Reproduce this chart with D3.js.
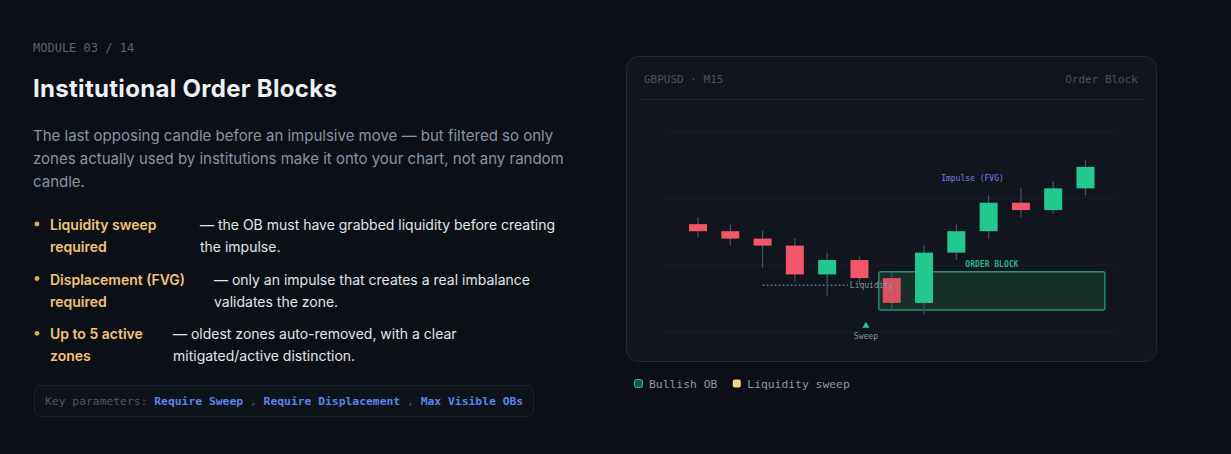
<!DOCTYPE html>
<html>
<head>
<meta charset="utf-8">
<script src="https://cdn.jsdelivr.net/npm/d3@7"></script>
<style>
  body { margin: 0; background: #0c1016; }
  svg { display: block; }
</style>
</head>
<body>
<div id="page"></div>
<script>
// Left column copy
let moduleLabel = 'MODULE 03 / 14';
let titleText = 'Institutional Order Blocks';
let introLines = [
	'The last opposing candle before an impulsive move \u2014 but filtered so only',
	'zones actually used by institutions make it onto your chart, not any random',
	'candle.'
];
let bulletLabels = [
	['Liquidity sweep', 'required'],
	['Displacement (FVG)', 'required'],
	['Up to 5 active', 'zones']
];
let bulletTexts = [
	['\u2014 the OB must have grabbed liquidity before creating', 'the impulse.'],
	['\u2014 only an impulse that creates a real imbalance', 'validates the zone.'],
	['\u2014 oldest zones auto-removed, with a clear', 'mitigated/active distinction.']
];
let keyParams = ['Require Sweep', 'Require Displacement', 'Max Visible OBs'];

// Chart: GBPUSD M15 candles
let symbolLabel = 'GBPUSD \u00b7 M15';
let chartTag = 'Order Block';
let candleIdx = [0, 1, 2, 3, 4, 5, 6, 7, 8, 9, 10, 11, 12];
let opens  = [1.27321, 1.27300, 1.27278, 1.27257, 1.27171, 1.27214, 1.27160, 1.27086, 1.27236, 1.27300, 1.27385, 1.27363, 1.27428];
let highs  = [1.27342, 1.27321, 1.27301, 1.27280, 1.27236, 1.27225, 1.27179, 1.27257, 1.27321, 1.27407, 1.27429, 1.27449, 1.27513];
let lows   = [1.27280, 1.27257, 1.27191, 1.27150, 1.27107, 1.27140, 1.27065, 1.27052, 1.27214, 1.27278, 1.27342, 1.27353, 1.27406];
let closes = [1.27300, 1.27278, 1.27257, 1.27171, 1.27214, 1.27160, 1.27086, 1.27236, 1.27300, 1.27385, 1.27363, 1.27428, 1.27492];
let priceTicks = [1.2700, 1.2720, 1.2740, 1.2760];

// Annotations
let liquidityLevel = 1.27139;
let liquiditySpan = [2, 4.64];
let obCandle = 6;
let obSpan = [5.6, 12.6];
let sweepMark = [5.2, 1.27018];
let impulseMark = [8.5, 1.27450];
let legendLabels = ['Bullish OB', 'Liquidity sweep'];

const mono = "'DejaVu Sans Mono', monospace";
const sans = "Inter, 'Noto Sans', sans-serif";
const green = '#22c98f', red = '#f25668';

let svg = d3.select('#page')
			.append('svg')
			.attr('width', 1231)
			.attr('height', 454);

svg.append('rect')
	.attr('width', 1231)
	.attr('height', 454)
	.attr('fill', '#0c1016');

/* Left column */
let left = svg.append('g');

left.append('text')
	.attr('x', 33).attr('y', 52)
	.attr('font-family', mono).attr('font-size', 12)
	.attr('fill', '#596171')
	.text(moduleLabel);

left.append('text')
	.attr('x', 33).attr('y', 97)
	.attr('font-family', sans).attr('font-size', 24).attr('font-weight', 700)
	.attr('letter-spacing', 0.3)
	.attr('fill', '#eef0f3')
	.text(titleText);

left.selectAll('.intro')
	.data(introLines)
	.join('text')
	.attr('class', 'intro')
	.attr('x', 33)
	.attr('y', (d, i) => 141 + i * 23.2)
	.attr('font-family', sans).attr('font-size', 15)
	.attr('fill', '#8a93a2')
	.text(d => d);

let itemBase = [230, 284.5, 339.3];
let descX = [200, 214, 173];

let items = left.selectAll('.item')
				.data(bulletLabels)
				.join('g')
				.attr('class', 'item')
				.attr('transform', (d, i) => 'translate(0,' + itemBase[i] + ')');

items.append('circle')
	.attr('cx', 37).attr('cy', -6)
	.attr('r', 2.4)
	.attr('fill', '#e4aa4b');

items.selectAll('.lbl')
	.data(d => d)
	.join('text')
	.attr('class', 'lbl')
	.attr('x', 50)
	.attr('y', (d, i) => i * 22)
	.attr('font-family', sans).attr('font-size', 14).attr('font-weight', 600)
	.attr('fill', '#f1c477')
	.text(d => d);

items.each(function (d, k) {
	d3.select(this).selectAll('.desc')
		.data(bulletTexts[k])
		.join('text')
		.attr('class', 'desc')
		.attr('x', descX[k])
		.attr('y', (t, i) => i * 22)
		.attr('font-family', sans).attr('font-size', 14)
		.attr('fill', '#e2e5e9')
		.text(t => t);
});

// key parameters box
left.append('rect')
	.attr('x', 34.5).attr('y', 385.5)
	.attr('width', 499).attr('height', 31)
	.attr('rx', 6)
	.attr('fill', '#0e131a')
	.attr('stroke', '#1b212b');

let kp = left.append('text')
			.attr('x', 45).attr('y', 405)
			.attr('font-family', mono).attr('font-size', 11.35)
			.attr('xml:space', 'preserve')
			.style('white-space', 'pre');

kp.append('tspan').attr('fill', '#4d5564').text('Key parameters: ');
keyParams.forEach((p, i) => {
	if (i > 0) kp.append('tspan').attr('fill', '#4d5564').text(' , ');
	kp.append('tspan').attr('fill', '#5a83ea').attr('font-weight', 700).text(p);
});

/* Chart card */
let card = svg.append('g');

card.append('rect')
	.attr('x', 626.5).attr('y', 56.5)
	.attr('width', 530).attr('height', 305)
	.attr('rx', 12)
	.attr('fill', '#10151e')
	.attr('stroke', '#222a36');

card.append('text')
	.attr('x', 644).attr('y', 83)
	.attr('font-family', mono).attr('font-size', 11)
	.attr('fill', '#4a5262')
	.text(symbolLabel);

card.append('text')
	.attr('x', 1138).attr('y', 83)
	.attr('text-anchor', 'end')
	.attr('font-family', mono).attr('font-size', 11)
	.attr('fill', '#4a5262')
	.text(chartTag);

card.append('line')
	.attr('x1', 639).attr('x2', 1144)
	.attr('y1', 99.5).attr('y2', 99.5)
	.attr('stroke', '#1c2330');

let x = d3.scaleLinear().domain([0, 12]).range([698, 1085.5]);
let y = d3.scaleLinear().domain([1.2700, 1.2760]).range([331.7, 130.7]);

// horizontal grid from a right axis with long ticks
let grid = card.append('g')
			.attr('transform', 'translate(665,0)')
			.call(d3.axisRight(y).tickValues(priceTicks).tickSize(452.5).tickFormat(''));
grid.select('.domain').remove();
grid.selectAll('line').attr('stroke', '#19202a');

// order block zone = range of the last bearish candle
card.append('rect')
	.attr('x', x(obSpan[0]))
	.attr('y', y(highs[obCandle]))
	.attr('width', x(obSpan[1]) - x(obSpan[0]))
	.attr('height', y(lows[obCandle]) - y(highs[obCandle]))
	.attr('rx', 2)
	.attr('fill', '#163029')
	.attr('stroke', '#2a9071')
	.attr('stroke-width', 1.4);

// liquidity level
card.append('line')
	.attr('x1', x(liquiditySpan[0])).attr('x2', x(liquiditySpan[1]))
	.attr('y1', y(liquidityLevel)).attr('y2', y(liquidityLevel))
	.attr('stroke', '#8a93a2')
	.attr('stroke-width', 1)
	.attr('stroke-dasharray', '2,2');

let candles = card.selectAll('.candle')
				.data(candleIdx)
				.join('g')
				.attr('class', 'candle');

candles.append('line')
	.attr('x1', i => x(i)).attr('x2', i => x(i))
	.attr('y1', i => y(highs[i])).attr('y2', i => y(lows[i]))
	.attr('stroke', '#4a5361')
	.attr('stroke-width', 1.2);

candles.append('rect')
	.attr('x', i => x(i) - 9)
	.attr('width', 18)
	.attr('y', i => y(Math.max(opens[i], closes[i])))
	.attr('height', i => Math.abs(y(opens[i]) - y(closes[i])))
	.attr('fill', i => closes[i] >= opens[i] ? green : red)
	.attr('opacity', i => i === obCandle ? 0.88 : 1);

card.append('text')
	.attr('x', x(liquiditySpan[1]) + 2)
	.attr('y', y(liquidityLevel) + 3)
	.attr('font-family', mono).attr('font-size', 8)
	.attr('fill', '#8a93a2')
	.text('Liquidity');

card.append('text')
	.attr('x', (x(obSpan[0]) + x(obSpan[1])) / 2)
	.attr('y', y(highs[obCandle]) - 5)
	.attr('text-anchor', 'middle')
	.attr('font-family', mono).attr('font-size', 8).attr('font-weight', 700)
	.attr('fill', '#2caf82')
	.text('ORDER BLOCK');

card.append('text')
	.attr('x', x(impulseMark[0]))
	.attr('y', y(impulseMark[1]))
	.attr('text-anchor', 'middle')
	.attr('font-family', mono).attr('font-size', 8)
	.attr('fill', '#7b7fe6')
	.text('Impulse (FVG)');

card.append('path')
	.attr('d', d3.symbol(d3.symbolTriangle).size(21)())
	.attr('transform', 'translate(' + x(sweepMark[0]) + ',' + y(sweepMark[1]) + ')')
	.attr('fill', green);

card.append('text')
	.attr('x', x(sweepMark[0]))
	.attr('y', y(sweepMark[1]) + 13.5)
	.attr('text-anchor', 'middle')
	.attr('font-family', mono).attr('font-size', 8)
	.attr('fill', '#8a93a2')
	.text('Sweep');

/* Legend under the card */
let legend = svg.append('g').attr('transform', 'translate(634,379)');
let legX = 0;
legendLabels.forEach((lab, i) => {
	legend.append('rect')
		.attr('x', legX + 0.5).attr('y', 0.5)
		.attr('width', 8).attr('height', 8)
		.attr('rx', 2)
		.attr('fill', i === 0 ? '#1b5a47' : '#f1d48a')
		.attr('stroke', i === 0 ? '#2dbb8a' : 'none');
	let t = legend.append('text')
		.attr('x', legX + 15).attr('y', 8.5)
		.attr('font-family', mono).attr('font-size', 11.35)
		.attr('fill', '#8d97a5')
		.text(lab);
	legX += 15 + t.node().getComputedTextLength() + 15;
});
</script>
</body>
</html>
